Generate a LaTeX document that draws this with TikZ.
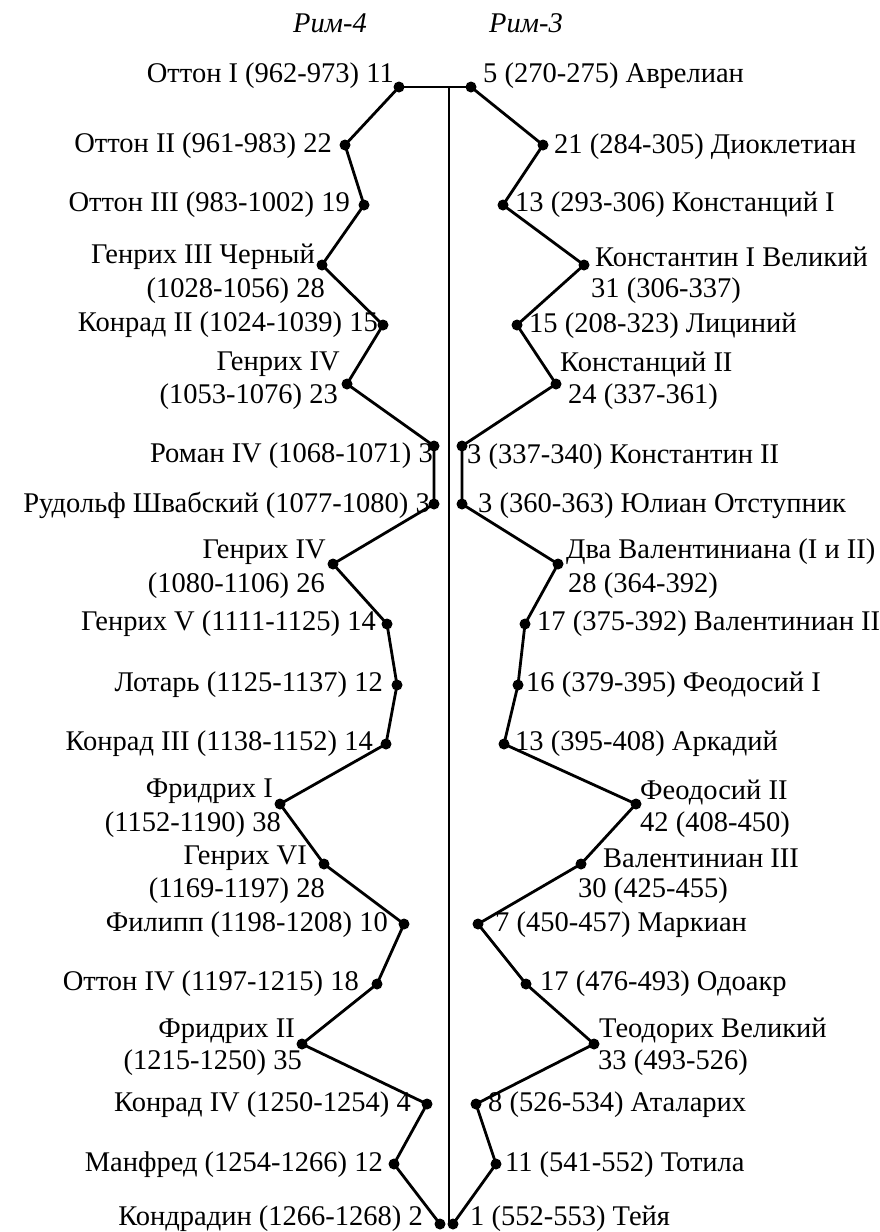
\documentclass[tikz,border=0pt]{standalone}
\usepackage{fontspec}
\setmainfont{Liberation Serif}
\begin{document}
\begin{tikzpicture}[x=1pt,y=-1pt,
  dot/.style={circle,fill=black,inner sep=0pt,minimum size=11pt},
  chain/.style={line width=2.8pt,line join=round,line cap=round},
  axis/.style={line width=1.1pt},
  lab/.style={font=\fontsize{28.5}{32}\selectfont,inner sep=0pt},
  labl/.style={lab,anchor=east},
  labr/.style={lab,anchor=west},
  ttl/.style={font=\fontsize{28.5}{32}\selectfont\itshape,inner sep=0pt}]
\useasboundingbox (0,0) rectangle (880,1232);
% titles
\node[ttl] (t4) at (330,23) {Рим-4};
\node[ttl] (t3) at (526,23) {Рим-3};
% axis
\coordinate (top) at (449,87);
\coordinate (bot) at (449,1226);
\draw[axis] (top) -- (bot);
% left dots
\node[dot] (a1) at (399,87) {};
\node[dot] (a2) at (345,145) {};
\node[dot] (a3) at (364,205) {};
\node[dot] (a4) at (322,265) {};
\node[dot] (a5) at (383,325) {};
\node[dot] (a6) at (347,384) {};
\node[dot] (a7) at (434,446) {};
\node[dot] (a8) at (434,504) {};
\node[dot] (a9) at (333,564) {};
\node[dot] (a10) at (387,624) {};
\node[dot] (a11) at (397,685) {};
\node[dot] (a12) at (386,744) {};
\node[dot] (a13) at (280,804) {};
\node[dot] (a14) at (324,864) {};
\node[dot] (a15) at (404,924) {};
\node[dot] (a16) at (377,984) {};
\node[dot] (a17) at (302,1044) {};
\node[dot] (a18) at (427,1104) {};
\node[dot] (a19) at (394,1164) {};
\node[dot] (a20) at (440,1224) {};
% right dots
\node[dot] (b1) at (471,87) {};
\node[dot] (b2) at (543,145) {};
\node[dot] (b3) at (503,205) {};
\node[dot] (b4) at (584,265) {};
\node[dot] (b5) at (517,325) {};
\node[dot] (b6) at (556,384) {};
\node[dot] (b7) at (462,446) {};
\node[dot] (b8) at (462,504) {};
\node[dot] (b9) at (558,564) {};
\node[dot] (b10) at (525,624) {};
\node[dot] (b11) at (518,685) {};
\node[dot] (b12) at (504,744) {};
\node[dot] (b13) at (636,804) {};
\node[dot] (b14) at (581,864) {};
\node[dot] (b15) at (478,924) {};
\node[dot] (b16) at (526,984) {};
\node[dot] (b17) at (594,1044) {};
\node[dot] (b18) at (476,1104) {};
\node[dot] (b19) at (496,1164) {};
\node[dot] (b20) at (453,1224) {};
% chains
\draw[chain] (a1.center) -- (b1.center);
\draw[chain] (a1.center) -- (a2.center) -- (a3.center) -- (a4.center) -- (a5.center) -- (a6.center) -- (a7.center) -- (a8.center) -- (a9.center) -- (a10.center) -- (a11.center) -- (a12.center) -- (a13.center) -- (a14.center) -- (a15.center) -- (a16.center) -- (a17.center) -- (a18.center) -- (a19.center) -- (a20.center);
\draw[chain] (b1.center) -- (b2.center) -- (b3.center) -- (b4.center) -- (b5.center) -- (b6.center) -- (b7.center) -- (b8.center) -- (b9.center) -- (b10.center) -- (b11.center) -- (b12.center) -- (b13.center) -- (b14.center) -- (b15.center) -- (b16.center) -- (b17.center) -- (b18.center) -- (b19.center) -- (b20.center);
% left labels
\node[labl] (la1) at (394,76) {Оттон I (962-973) 11};
\node[labl] (la2) at (332,146) {Оттон II (961-983) 22};
\node[labl] (la3) at (350,205) {Оттон III (983-1002) 19};
\node[labl] (la4a) at (315,257) {Генрих III Черный};
\node[labl] (la4b) at (325,291) {(1028-1056) 28};
\node[labl] (la5) at (378,325) {Конрад II (1024-1039) 15};
\node[labl] (la6a) at (340,364) {Генрих IV};
\node[labl] (la6b) at (338,397) {(1053-1076) 23};
\node[labl] (la7) at (433,456) {Роман IV (1068-1071) 3};
\node[labl] (la8) at (430,505) {Рудольф Швабский (1077-1080) 3};
\node[labl] (la9a) at (326,552) {Генрих IV};
\node[labl] (la9b) at (325,586) {(1080-1106) 26};
\node[labl] (la10) at (376,624) {Генрих V (1111-1125) 14};
\node[labl] (la11) at (383,685) {Лотарь (1125-1137) 12};
\node[labl] (la12) at (373,744) {Конрад III (1138-1152) 14};
\node[labl] (la13a) at (273,791) {Фридрих I};
\node[labl] (la13b) at (281,825) {(1152-1190) 38};
\node[labl] (la14a) at (307,858) {Генрих VI};
\node[labl] (la14b) at (325,891) {(1169-1197) 28};
\node[labl] (la15) at (388,925) {Филипп (1198-1208) 10};
\node[labl] (la16) at (359,984) {Оттон IV (1197-1215) 18};
\node[labl] (la17a) at (295,1031) {Фридрих II};
\node[labl] (la17b) at (302,1063) {(1215-1250) 35};
\node[labl] (la18) at (411,1105) {Конрад IV (1250-1254) 4};
\node[labl] (la19) at (383,1165) {Манфред (1254-1266) 12};
\node[labl] (la20) at (423,1219) {Кондрадин (1266-1268) 2};
% right labels
\node[labr] (lb1) at (483,76) {5 (270-275) Аврелиан};
\node[labr] (lb2) at (554,147) {21 (284-305) Диоклетиан};
\node[labr] (lb3) at (515,205) {13 (293-306) Констанций I};
\node[labr] (lb4a) at (595,257) {Константин I Великий};
\node[labr] (lb4b) at (591,291) {31 (306-337)};
\node[labr] (lb5) at (529,326) {15 (208-323) Лициний};
\node[labr] (lb6a) at (560,364) {Констанций II};
\node[labr] (lb6b) at (568,397) {24 (337-361)};
\node[labr] (lb7) at (467,457) {3 (337-340) Константин II};
\node[labr] (lb8) at (478,506) {3 (360-363) Юлиан Отступник};
\node[labr] (lb9a) at (566,552) {Два Валентиниана (I и II)};
\node[labr] (lb9b) at (568,586) {28 (364-392)};
\node[labr] (lb10) at (537,624) {17 (375-392) Валентиниан II};
\node[labr] (lb11) at (526,685) {16 (379-395) Феодосий I};
\node[labr] (lb12) at (515,744) {13 (395-408) Аркадий};
\node[labr] (lb13a) at (640,792) {Феодосий II};
\node[labr] (lb13b) at (640,825) {42 (408-450)};
\node[labr] (lb14a) at (603,858) {Валентиниан III};
\node[labr] (lb14b) at (578,891) {30 (425-455)};
\node[labr] (lb15) at (495,925) {7 (450-457) Маркиан};
\node[labr] (lb16) at (540,984) {17 (476-493) Одоакр};
\node[labr] (lb17a) at (599,1031) {Теодорих Великий};
\node[labr] (lb17b) at (598,1063) {33 (493-526)};
\node[labr] (lb18) at (488,1105) {8 (526-534) Аталарих};
\node[labr] (lb19) at (505,1165) {11 (541-552) Тотила};
\node[labr] (lb20) at (470,1219) {1 (552-553) Тейя};
\end{tikzpicture}
\end{document}
